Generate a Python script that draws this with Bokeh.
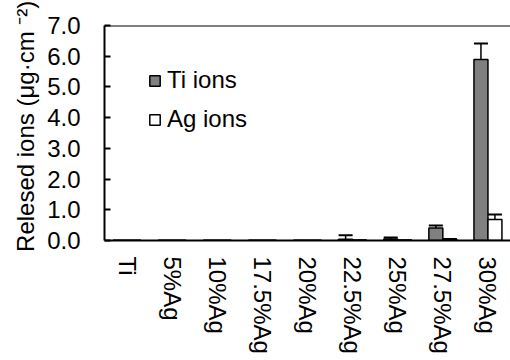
from bokeh.plotting import figure
from bokeh.models import (ColumnDataSource, FactorRange, Range1d, Whisker, TeeHead,
                          Legend, LegendItem, Span, NumeralTickFormatter)
from bokeh.transform import dodge
from bokeh.embed import file_html
from bokeh.resources import INLINE

categories = ["Ti", "5%Ag", "10%Ag", "17.5%Ag", "20%Ag", "22.5%Ag", "25%Ag", "27.5%Ag", "30%Ag"]
ti_ions = [0.0, 0.0, 0.0, 0.0, 0.0, 0.04, 0.05, 0.41, 5.89]
ti_err = [0.0, 0.0, 0.0, 0.0, 0.0, 0.13, 0.05, 0.08, 0.52]
ag_ions = [0.0, 0.0, 0.0, 0.0, 0.0, 0.01, 0.01, 0.03, 0.68]
ag_err = [0.0, 0.0, 0.0, 0.0, 0.0, 0.0, 0.0, 0.02, 0.17]
y_ticks = [0, 1, 2, 3, 4, 5, 6, 7]
y_title = "Relesed ions (μg·cm ⁻²)"

FONT = "Liberation Sans"
FS = "24px"

src = ColumnDataSource(dict(
    cat=categories,
    ti=ti_ions, ti_up=[v + e for v, e in zip(ti_ions, ti_err)],
    ag=ag_ions, ag_up=[v + e for v, e in zip(ag_ions, ag_err)],
))

p = figure(width=510, height=360, x_range=FactorRange(*categories), y_range=Range1d(0, 7),
           output_backend="svg", toolbar_location=None,
           min_border_left=104, min_border_top=25, min_border_right=0, min_border_bottom=120)
p.x_range.range_padding = 0
p.grid.visible = False
p.outline_line_color = None
p.background_fill_color = "white"
p.border_fill_color = "white"

BW = 0.31
OFF = 0.155
r_ti = p.vbar(x=dodge("cat", -OFF, range=p.x_range), top="ti", width=BW, source=src,
              fill_color="#808080", line_color="black", line_width=1.5)
r_ag = p.vbar(x=dodge("cat", OFF, range=p.x_range), top="ag", width=BW, source=src,
              fill_color="white", line_color="black", line_width=1.5)

for key, up, off in (("ti", "ti_up", -OFF), ("ag", "ag_up", OFF)):
    w = Whisker(base=dodge("cat", off, range=p.x_range), lower=key, upper=up, source=src,
                line_color="black", line_width=1.5, lower_head=None,
                upper_head=TeeHead(size=14, line_color="black", line_width=2))
    p.add_layout(w)

top_line = Span(location=7, dimension="width", line_color="black", line_width=2)
p.add_layout(top_line)

# y axis
ya = p.yaxis[0]
ya.ticker = y_ticks
ya.formatter = NumeralTickFormatter(format="0.0")
ya.major_tick_in = 6
ya.major_tick_out = 0
ya.minor_tick_line_color = None
ya.axis_line_width = 2
ya.major_tick_line_width = 2
ya.major_label_standoff = 24
ya.major_label_text_font = FONT
ya.major_label_text_font_size = FS
ya.major_label_text_color = "black"
# two leading no-break spaces nudge the centred title upward, as in the reference
ya.axis_label = "\u00a0\u00a0" + y_title
ya.axis_label_text_font = FONT
ya.axis_label_text_font_size = FS
ya.axis_label_text_font_style = "normal"
ya.axis_label_text_color = "black"
ya.axis_label_standoff = 5

# x axis
xa = p.xaxis[0]
xa.major_label_orientation = "vertical"
xa.major_tick_line_color = None
xa.major_tick_in = 0
xa.major_tick_out = 0
xa.axis_line_width = 2
xa.major_label_standoff = 16
xa.major_label_text_font = FONT
xa.major_label_text_font_size = FS
xa.major_label_text_color = "black"

legend = Legend(items=[LegendItem(label="Ti ions", renderers=[r_ti]),
                       LegendItem(label="Ag ions", renderers=[r_ag])],
                location=(44, 107), orientation="vertical",
                border_line_color=None, background_fill_alpha=0,
                padding=0, margin=0, spacing=11,
                glyph_width=13, glyph_height=13, label_height=26, label_standoff=6,
                label_text_font=FONT, label_text_font_size=FS, label_text_color="black")
p.add_layout(legend)

open("out.html", "w").write(file_html(p, INLINE))
